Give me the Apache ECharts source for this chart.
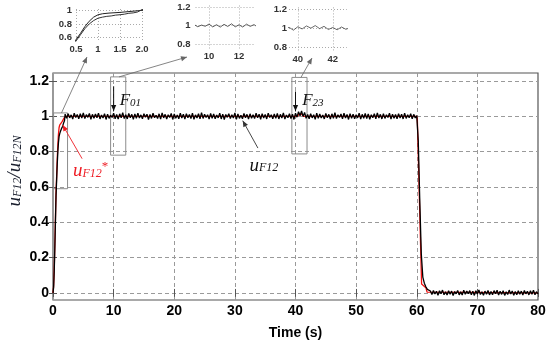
<!DOCTYPE html>
<html><head><meta charset="utf-8">
<script src="https://cdn.jsdelivr.net/npm/echarts@6/dist/echarts.min.js"></script>
<style>html,body{margin:0;padding:0;background:#fff}#c{width:550px;height:345px}</style>
</head><body><div id="c"></div>
<script>
// ---------- data ----------
const xTicks = [0,10,20,30,40,50,60,70,80];
const yTicks = [0,0.2,0.4,0.6,0.8,1,1.2];
const inset1XTicks = [0.5,1,1.5,2];
const inset1XLabels = ['0.5','1','1.5','2.0'];
const inset1YTicks = [0.6,0.8,1];
const inset2XTicks = [10,12];
const inset3XTicks = [40,42];
const insetYTicks = [0.8,1,1.2];

const sampleStep = 0.25;
// measured u_F12 (black)
const blackRiseT = [0,0.1,0.2,0.3,0.4,0.5,0.6,0.7,0.8,0.9,1.0,1.1,1.2,1.3,1.4,1.5,1.6,1.7,1.8,1.9];
const blackRiseV = [0,0.03,0.12,0.25,0.4,0.55,0.64,0.73,0.8,0.85,0.885,0.9,0.912,0.918,0.93,0.936,0.944,0.957,0.963,0.976];
const blackFlatStart = 2.0;
const blackFlatV = [
1.012,0.988,1.015,0.991,1.008,0.984,1.017,0.993,1.010,0.986,1.014,0.990,1.019,0.987,1.009,0.994,1.016,0.983,1.011,0.989,
1.013,0.992,1.018,0.985,1.007,0.990,1.015,0.982,1.012,0.988,1.006,0.993,1.017,0.986,1.010,0.984,1.014,0.991,1.020,0.987,
1.009,0.985,1.016,0.992,1.011,0.983,1.013,0.989,1.018,0.990,1.008,0.986,1.015,0.994,1.012,0.981,1.010,0.988,1.017,0.992,
1.006,0.987,1.014,0.984,1.019,0.991,1.011,0.985,1.009,0.993,1.016,0.982,1.013,0.989,1.007,0.986,1.018,0.990,1.012,0.984,
1.015,0.992,1.010,0.987,1.017,0.983,1.008,0.990,1.014,0.985,1.021,0.988,1.011,0.993,1.009,0.984,1.016,0.989,1.013,0.986,
1.007,0.991,1.018,0.985,1.012,0.982,1.010,0.994,1.015,0.987,1.009,0.990,1.019,0.983,1.013,0.988,1.006,0.986,1.016,0.992,
1.011,0.984,1.014,0.989,1.008,0.987,1.017,0.991,1.012,0.983,1.015,0.990,1.010,0.985,1.018,0.993,1.009,0.986,1.013,0.988,
1.016,0.985,1.011,0.990,1.019,0.984,1.007,0.992,1.014,0.987,1.012,0.982,1.017,0.995,1.026,1.003,1.030,0.998,1.022,0.989,
1.010,0.986,1.015,0.991,1.009,0.983,1.018,0.988,1.013,0.990,1.007,0.985,1.016,0.992,1.011,0.984,1.014,0.989,1.020,0.987,
1.008,0.993,1.013,0.985,1.017,0.990,1.010,0.982,1.015,0.988,1.012,0.986,1.009,0.991,1.018,0.984,1.011,0.989,1.016,0.987,
1.013,0.983,1.009,0.992,1.015,0.986,1.019,0.990,1.011,0.985,1.014,0.988,1.008,0.993,1.017,0.984,1.012,0.989,1.010,0.986,
1.015,0.990,1.012,0.985,1.018,0.988,1.009,0.992,1.014,0.986,1.011,0.991,1.003];
const blackFallT = [60.25,60.5,60.75,61.0,61.25,61.5,61.75,62.0];
const blackFallV = [0.86,0.52,0.22,0.09,0.055,0.035,0.02,0.012];
const blackTailStart = 62.25;
const blackTailV = [
0.011,-0.009,0.014,-0.006,0.009,-0.013,0.012,-0.004,0.016,-0.010,0.007,-0.012,0.013,-0.007,0.010,-0.015,0.008,-0.005,0.014,-0.011,
0.006,-0.012,0.015,-0.008,0.011,-0.004,0.013,-0.010,0.009,-0.014,0.012,-0.006,0.017,-0.009,0.007,-0.013,0.010,-0.007,0.014,-0.011,
0.008,-0.010,0.013,-0.005,0.015,-0.012,0.009,-0.008,0.012,-0.014,0.006,-0.009,0.016,-0.006,0.011,-0.013,0.008,-0.010,0.013,-0.007,
0.010,-0.012,0.014,-0.005,0.009,-0.011,0.012,-0.008,0.015,-0.010,0.007,-0.006];
// reference u_F12* (red)
const redT = [0,0.1,0.2,0.3,0.4,0.5,0.6,0.7,0.8,0.9,1.0,1.1,1.25,1.5,1.75,2.0,40.3,40.6,41.0,41.3,60.0,60.1,60.8,61.5,61.7,62.0,80];
const redV = [0,0.04,0.13,0.27,0.42,0.57,0.66,0.76,0.84,0.9,0.935,0.95,0.96,0.97,0.985,1.0,1.0,1.012,1.012,1.0,1.0,0.98,0.05,0.03,0.005,0,0];

// zoom boxes [x0,y0,x1,y1] in data units
const boxes = [[0.1,1.019,2.4,0.59],[9.5,1.223,12.0,0.78],[39.4,1.22,41.9,0.787]];

// ---------- build ----------
const blackData = [];
blackRiseT.forEach((t,i)=>blackData.push([t,blackRiseV[i]]));
blackFlatV.forEach((v,i)=>blackData.push([blackFlatStart+i*sampleStep,v]));
blackFallT.forEach((t,i)=>blackData.push([t,blackFallV[i]]));
blackTailV.forEach((v,i)=>blackData.push([blackTailStart+i*sampleStep,v]));
const redData = redT.map((t,i)=>[t,redV[i]]);

const chart = echarts.init(document.getElementById('c'), null, {renderer:'canvas'});
const lblFont = {fontFamily:'Liberation Sans, Arial, sans-serif', fontWeight:'bold', color:'#000'};
const dashed = {show:true, lineStyle:{color:'#9a9a9a', type:[4,3], width:1}};
const dotted = {show:true, lineStyle:{color:'#aaa', type:[1,2], width:1}};

function insetX(grid, min, max, ticks, labels){
  return {type:'value', gridIndex:grid, min:min, max:max,
    axisLine:{show:false}, axisTick:{show:false, customValues:ticks},
    axisLabel:{customValues:ticks, margin:3, fontSize:9.5, ...lblFont, color:'#333',
      formatter:(v)=>{ if(labels){const k=ticks.indexOf(v); return k>=0?labels[k]:String(v);} return String(v);} },
    splitLine:dotted};
}
function insetY(grid, min, max, ticks, margin){
  return {type:'value', gridIndex:grid, min:min, max:max,
    axisLine:{show:false}, axisTick:{show:false, customValues:ticks},
    axisLabel:{customValues:ticks, margin:margin, fontSize:9.5, ...lblFont, color:'#333'},
    splitLine:dotted};
}

const option = {
  animation:false,
  backgroundColor:'#fff',
  grid:[
    {left:53, top:73, width:485, height:227, show:true, borderColor:'#555', borderWidth:1.2},
    {left:76, top:9, width:66, height:32},
    {left:195.5, top:5.5, width:58.5, height:43},
    {left:289, top:7.4, width:57.75, height:44}
  ],
  xAxis:[
    {type:'value', gridIndex:0, min:0, max:80, interval:10,
      axisLine:{show:false}, axisTick:{show:true, inside:true, length:4, lineStyle:{color:'#555'}},
      axisLabel:{margin:4, fontSize:14, ...lblFont},
      splitLine:dashed,
      name:'Time (s)', nameLocation:'middle', nameGap:26,
      nameTextStyle:{fontSize:14, ...lblFont}},
    {type:'value', gridIndex:0, min:0, max:80, interval:10, position:'top',
      axisLine:{show:false}, axisTick:{show:true, inside:true, length:4, lineStyle:{color:'#555'}},
      axisLabel:{show:false}, splitLine:{show:false}},
    insetX(1, 0.5, 2.0, inset1XTicks, inset1XLabels),
    insetX(2, 9.1, 13.0, inset2XTicks, null),
    insetX(3, 39.5, 42.8, inset3XTicks, null)
  ],
  yAxis:[
    {type:'value', gridIndex:0, min:-0.04, max:1.245,
      axisLine:{show:false}, axisTick:{show:true, inside:true, length:4, customValues:yTicks, lineStyle:{color:'#555'}},
      axisLabel:{customValues:yTicks, margin:4, fontSize:14, ...lblFont},
      splitLine:dashed},
    {type:'value', gridIndex:0, min:-0.04, max:1.245, position:'right',
      axisLine:{show:false}, axisTick:{show:true, inside:true, length:4, customValues:yTicks, lineStyle:{color:'#555'}},
      axisLabel:{show:false}, splitLine:{show:false}},
    insetY(1, 0.55, 1.02, inset1YTicks, 4),
    insetY(2, 0.75, 1.22, insetYTicks, 5),
    insetY(3, 0.76, 1.22, insetYTicks, 2)
  ],
  series:[
    {type:'line', xAxisIndex:0, yAxisIndex:0, data:redData, symbol:'none', clip:false,
      lineStyle:{color:'#f01010', width:1.3}, z:2},
    {type:'line', xAxisIndex:0, yAxisIndex:0, data:blackData, symbol:'none', clip:false,
      lineStyle:{color:'#000', width:1.3}, z:3,
      markArea:{silent:true, itemStyle:{color:'rgba(0,0,0,0)', borderColor:'#8c8c8c', borderWidth:1},
        data: boxes.map(b=>[{coord:[b[0],b[1]]},{coord:[b[2],b[3]]}])}},
    {type:'line', xAxisIndex:2, yAxisIndex:2, data:redData, symbol:'none', lineStyle:{color:'#222', width:1}},
    {type:'line', xAxisIndex:2, yAxisIndex:2, data:blackData, symbol:'none', lineStyle:{color:'#333', width:1}},
    {type:'line', xAxisIndex:3, yAxisIndex:3, data:blackData, symbol:'none', lineStyle:{color:'#333', width:0.8}},
    {type:'line', xAxisIndex:4, yAxisIndex:4, data:blackData, symbol:'none', lineStyle:{color:'#444', width:0.8}}
  ]
};
chart.setOption(option);

// ---------- annotations ----------
const P = (x,y)=>chart.convertToPixel({gridIndex:0},[x,y]);
const g = [];
function arrow(p0,p1,color,w){
  g.push({type:'line', z:50, shape:{x1:p0[0],y1:p0[1],x2:p1[0],y2:p1[1]}, style:{stroke:color, lineWidth:w}});
  const dx=p1[0]-p0[0], dy=p1[1]-p0[1], L=Math.hypot(dx,dy), ux=dx/L, uy=dy/L;
  const hl=6, hw=2.6;
  const bx=p1[0]-ux*hl, by=p1[1]-uy*hl;
  g.push({type:'polygon', z:50, shape:{points:[[p1[0],p1[1]],[bx-uy*hw,by+ux*hw],[bx+uy*hw,by-ux*hw]]}, style:{fill:color}});
}
const serif = 'Liberation Serif, Times New Roman, serif';
function lbl(p, rich, text, color){
  g.push({type:'text', z:60, x:p[0], y:p[1], style:{text:text, rich:rich, fill:color, textVerticalAlign:'middle', textAlign:'left'}});
}
const richF = {b:{fontFamily:serif, fontStyle:'italic', fontSize:17, fill:'#111'}, s:{fontFamily:serif, fontStyle:'italic', fontSize:11, fill:'#111', padding:[6,0,0,0]}};
const richU = {b:{fontFamily:serif, fontStyle:'italic', fontSize:19, fill:'#111'}, s:{fontFamily:serif, fontStyle:'italic', fontSize:12, fill:'#111', padding:[5,0,0,0]}};
const richR = {b:{fontFamily:serif, fontStyle:'italic', fontSize:19, fill:'#ee1c24'}, s:{fontFamily:serif, fontStyle:'italic', fontSize:12, fill:'#ee1c24', padding:[5,0,0,0]}, t:{fontFamily:serif, fontSize:13, fill:'#ee1c24', padding:[0,0,8,0]}};

// connectors from zoom boxes to insets
arrow(P(1.4,1.019),[87,57],'#666',0.8);
arrow(P(10.9,1.223),[187,57],'#666',0.8);
arrow(P(40.9,1.22),[312,58],'#666',0.8);
// F01 / F23 markers
arrow(P(10,1.17),P(10,1.03),'#111',1);
arrow(P(40,1.14),P(40,1.03),'#111',1);
lbl(P(11.0,1.09), richF, '{b|F}{s|01}');
lbl(P(41.1,1.09), richF, '{b|F}{s|23}');
// series labels
arrow(P(33.8,0.82),P(31.3,0.975),'#333',0.9);
lbl(P(32.4,0.72), richU, '{b|u}{s|F12}');
arrow(P(4.8,0.76),P(1.6,0.95),'#ee1c24',0.9);
lbl(P(3.3,0.69), richR, '{b|u}{s|F12}{t|*}');
// y axis title
g.push({type:'text', z:60, x:15, y:171, rotation:Math.PI/2,
  style:{text:'{b|u}{s|F12}{b|/u}{s|F12N}', rich:{b:{fontFamily:serif, fontStyle:'italic', fontSize:19, fill:'#1a1f2e'}, s:{fontFamily:serif, fontStyle:'italic', fontSize:12, fill:'#1a1f2e', padding:[5,0,0,0]}},
    textAlign:'center', textVerticalAlign:'middle'}});
chart.setOption({graphic:g});
</script></body></html>
